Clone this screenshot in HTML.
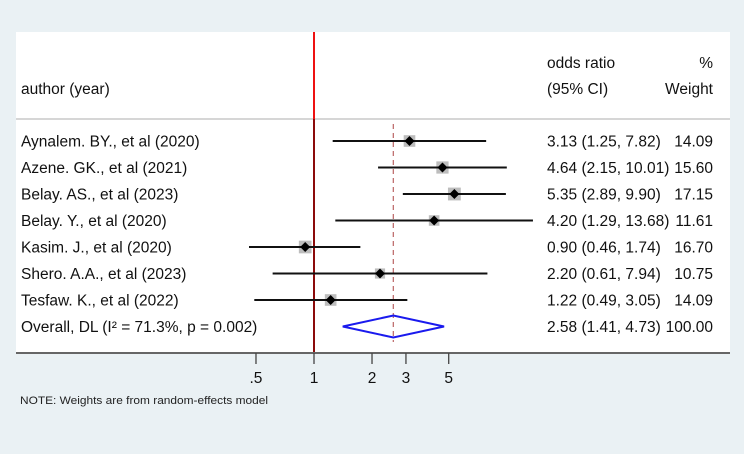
<!DOCTYPE html>
<html><head><meta charset="utf-8"><style>
html,body{margin:0;padding:0;background:#eaf1f4;}
svg{display:block;font-family:"Liberation Sans",Arial,sans-serif;}
</style></head><body>
<svg id="chart" width="744" height="454" viewBox="0 0 744 454" xmlns="http://www.w3.org/2000/svg">
<rect x="0" y="0" width="744" height="454" fill="#eaf1f4"/>
<rect x="16" y="32" width="714" height="321" fill="#ffffff"/>
<line x1="16" y1="119" x2="730" y2="119" stroke="#c8c8c8" stroke-width="1.5"/>
<text x="21" y="94" font-size="15.5" fill="#111">author (year)</text>
<text x="547" y="68" font-size="15.5" fill="#111">odds ratio</text>
<text x="547" y="94" font-size="15.5" fill="#111">(95% CI)</text>
<text x="713" y="68" font-size="15.5" fill="#111" text-anchor="end">%</text>
<text x="713" y="94" font-size="15.5" fill="#111" text-anchor="end">Weight</text>
<g id="marks"></g>
<line x1="16" y1="353" x2="730" y2="353" stroke="#666" stroke-width="2"/>
<g id="axis"></g>
<text x="20" y="404" font-size="11" fill="#222" textLength="248" lengthAdjust="spacingAndGlyphs">NOTE: Weights are from random-effects model</text>
</svg>
<script>
const labels = ["Aynalem. BY., et al (2020)","Azene. GK., et al  (2021)","Belay. AS., et al  (2023)","Belay. Y., et al (2020)","Kasim. J., et al  (2020)","Shero. A.A., et al (2023)","Tesfaw. K., et al (2022)"];
const orValues = [3.13,4.64,5.35,4.20,0.90,2.20,1.22];
const ciLow = [1.25,2.15,2.89,1.29,0.46,0.61,0.49];
const ciHigh = [7.82,10.01,9.90,13.68,1.74,7.94,3.05];
const weights = [14.09,15.60,17.15,11.61,16.70,10.75,14.09];
const overall = [2.58,1.41,4.73];
const overallLabel = "Overall, DL (I\u00B2 = 71.3%, p = 0.002)";
const tickValues = [0.5,1,2,3,5];
const tickLabels = [".5","1","2","3","5"];

const NS="http://www.w3.org/2000/svg";
const FS=15.5;
const x = v => 314 + 83.7*Math.log(v);
const rowY = i => 141 + 26.5*i;
const marks=document.getElementById('marks'), axis=document.getElementById('axis');
function mk(tag, attrs, parent){const e=document.createElementNS(NS,tag);for(const k in attrs)e.setAttribute(k,attrs[k]);(parent||marks).appendChild(e);return e;}
const fmt=v=>v.toFixed(2);

let l;
l=mk('line',{x1:x(overall[0]),y1:124,x2:x(overall[0]),y2:342,stroke:'#c07070','stroke-width':1.3,'stroke-dasharray':'5,4'});


l=mk('line',{x1:x(1),y1:32,x2:x(1),y2:119,stroke:'#ee1111','stroke-width':2});


l=mk('line',{x1:x(1),y1:119,x2:x(1),y2:353,stroke:'#8b0a0a','stroke-width':2});



labels.forEach((lab,i)=>{
  const y=rowY(i);
  let t=mk('text',{x:21,y:y+5.5,'font-size':FS,fill:'#111'}); t.textContent=lab;
  
  
  const s=Math.sqrt(weights[i])*3.1;
  let r=mk('rect',{x:x(orValues[i])-s/2,y:y-s/2,width:s,height:s,fill:'#bdbdbd'});
  
  
  let c=mk('line',{x1:x(ciLow[i]),y1:y,x2:x(ciHigh[i]),y2:y,stroke:'#111','stroke-width':2});
  
  
  const px=x(orValues[i]);
  let d=mk('polygon',{points:`${px},${y-5} ${px+5},${y} ${px},${y+5} ${px-5},${y}`,fill:'#000'});
  
  
  let v=mk('text',{x:547,y:y+5.5,'font-size':FS,fill:'#111'}); v.textContent=`${fmt(orValues[i])} (${fmt(ciLow[i])}, ${fmt(ciHigh[i])})`;
  
  
  let w=mk('text',{x:713,y:y+5.5,'font-size':FS,fill:'#111','text-anchor':'end'}); w.textContent=fmt(weights[i]);
  
  
});
const oy=rowY(7);
let ot=mk('text',{x:21,y:oy+5.5,'font-size':FS,fill:'#111'}); ot.textContent=overallLabel;


let dm=mk('polygon',{points:`${x(overall[1])},${oy} ${x(overall[0])},${oy-11} ${x(overall[2])},${oy} ${x(overall[0])},${oy+11}`,fill:'none',stroke:'#1a1aee','stroke-width':2});


let ov=mk('text',{x:547,y:oy+5.5,'font-size':FS,fill:'#111'}); ov.textContent=`${fmt(overall[0])} (${fmt(overall[1])}, ${fmt(overall[2])})`;


let ow=mk('text',{x:713,y:oy+5.5,'font-size':FS,fill:'#111','text-anchor':'end'}); ow.textContent="100.00";



tickValues.forEach((tv,i)=>{
  let tk=mk('line',{x1:x(tv),y1:353,x2:x(tv),y2:364,stroke:'#444','stroke-width':1.3},axis);
  
  
  let tl=mk('text',{x:x(tv),y:383,'font-size':FS,fill:'#111','text-anchor':'middle'},axis); tl.textContent=tickLabels[i];
  
  
});
</script>
</body></html>
